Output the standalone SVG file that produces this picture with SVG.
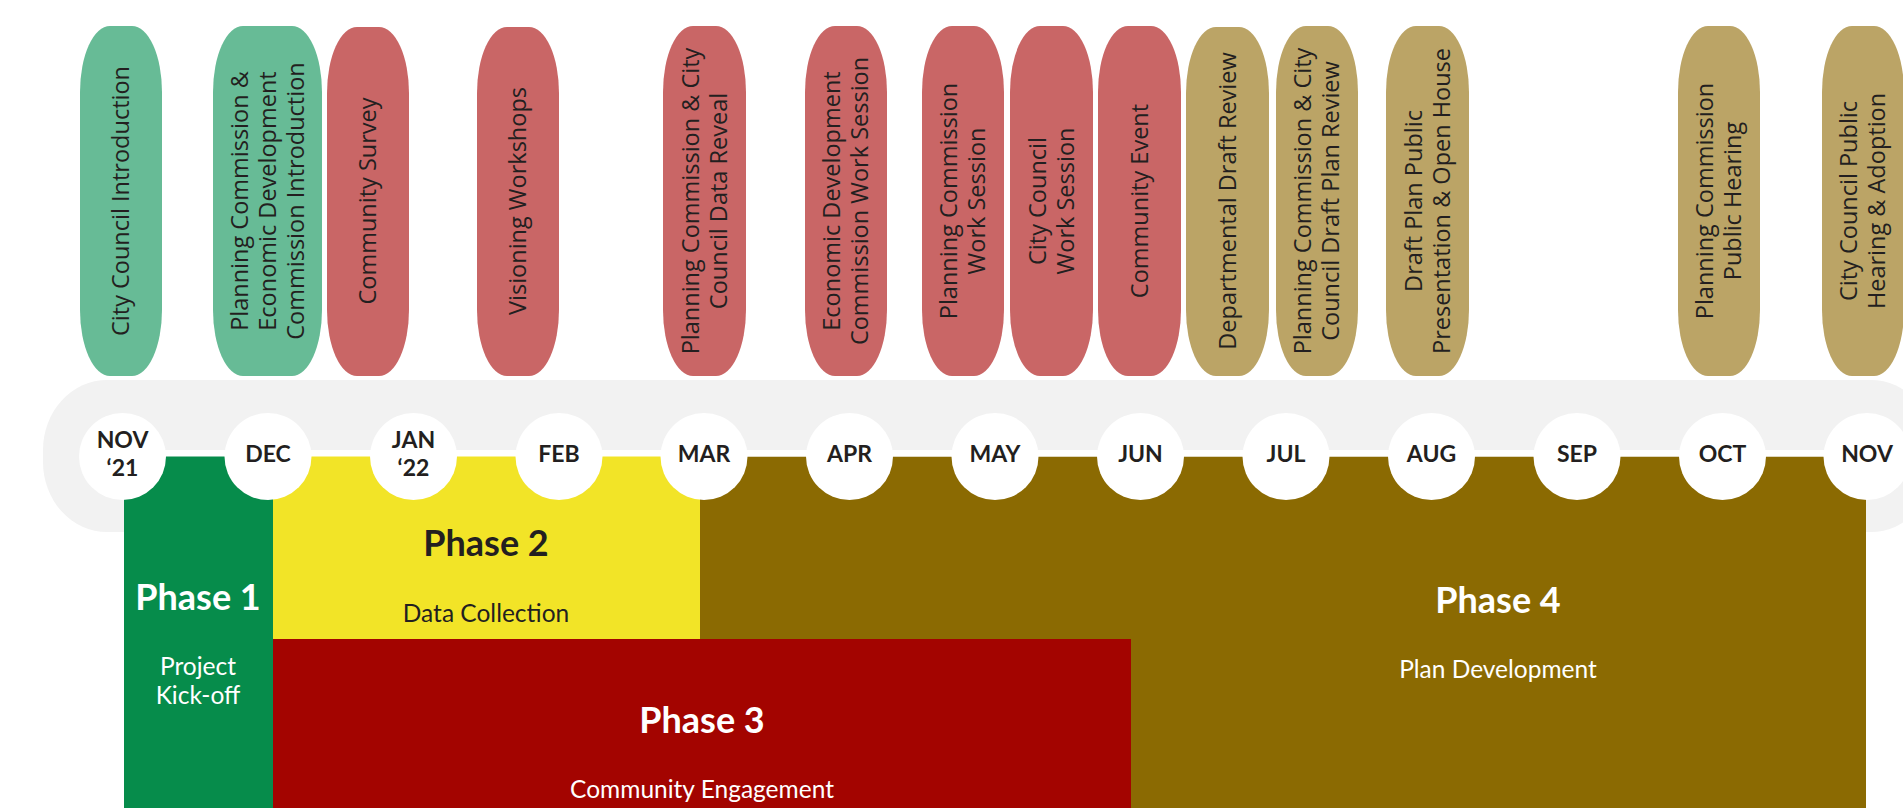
<svg xmlns="http://www.w3.org/2000/svg" width="1903" height="808" viewBox="0 0 1903 808">
<style>
.pill rect{stroke:none}
.g rect{fill:#67BB96}
.r rect{fill:#C96666}
.t rect{fill:#BBA466}
.pill text{font-family:"Open Sans","Noto Sans",sans-serif;font-size:23.5px;fill:#231F20;text-anchor:middle}
.mo circle{fill:#FFFFFF}
.mo text{font-family:Lato,"Liberation Sans",sans-serif;font-weight:700;font-size:23px;fill:#231F20;text-anchor:middle}
.ph{font-family:Lato,"Liberation Sans",sans-serif;font-weight:700;font-size:36px;text-anchor:middle}
.sub{font-family:Lato,"Liberation Sans",sans-serif;font-size:24.5px;text-anchor:middle}
</style>
<rect id="band" x="43" y="380" width="1892" height="152" rx="64" ry="70" fill="#F2F2F2"/>
<g id="phase1"><rect x="124" y="456" width="149" height="352" fill="#068C4B"/>
<text class="ph" x="198" y="610" fill="#FFFFFF">Phase 1</text>
<text class="sub" fill="#FFFFFF"><tspan x="198" y="675">Project</tspan><tspan x="198" y="704">Kick-off</tspan></text></g>
<g id="phase2"><rect x="273" y="456" width="427" height="183" fill="#F2E427"/>
<text class="ph" x="486" y="556" fill="#231F20">Phase 2</text>
<text class="sub" x="486" y="622" fill="#231F20">Data Collection</text></g>
<g id="phase4"><rect x="700" y="456.5" width="1166" height="351.5" fill="#8B6A02"/>
<text class="ph" x="1498" y="613" fill="#FFFFFF">Phase 4</text>
<text class="sub" x="1498" y="678" fill="#FFFFFF">Plan Development</text></g>
<g id="phase3"><rect x="273" y="639" width="858" height="169" fill="#A30400"/>
<text class="ph" x="702" y="733" fill="#FFFFFF">Phase 3</text>
<text class="sub" x="702" y="798" fill="#FFFFFF">Community Engagement</text></g>
<g id="connectors"><rect x="122" y="450" width="1745" height="6.5" fill="#FFFFFF"/></g>
<g id="months">
<g id="m-nov21" class="mo"><circle cx="122.5" cy="456.5" r="43.5"/><text><tspan x="122.5" y="448">NOV</tspan><tspan x="122.5" y="476">‘21</tspan></text></g>
<g id="m-dec" class="mo"><circle cx="268" cy="456.5" r="43.5"/><text x="268" y="461.5">DEC</text></g>
<g id="m-jan22" class="mo"><circle cx="413.5" cy="456.5" r="43.5"/><text><tspan x="413.5" y="448">JAN</tspan><tspan x="413.5" y="476">‘22</tspan></text></g>
<g id="m-feb" class="mo"><circle cx="559" cy="456.5" r="43.5"/><text x="559" y="461.5">FEB</text></g>
<g id="m-mar" class="mo"><circle cx="704" cy="456.5" r="43.5"/><text x="704" y="461.5">MAR</text></g>
<g id="m-apr" class="mo"><circle cx="849.5" cy="456.5" r="43.5"/><text x="849.5" y="461.5">APR</text></g>
<g id="m-may" class="mo"><circle cx="995" cy="456.5" r="43.5"/><text x="995" y="461.5">MAY</text></g>
<g id="m-jun" class="mo"><circle cx="1140.5" cy="456.5" r="43.5"/><text x="1140.5" y="461.5">JUN</text></g>
<g id="m-jul" class="mo"><circle cx="1286" cy="456.5" r="43.5"/><text x="1286" y="461.5">JUL</text></g>
<g id="m-aug" class="mo"><circle cx="1431.5" cy="456.5" r="43.5"/><text x="1431.5" y="461.5">AUG</text></g>
<g id="m-sep" class="mo"><circle cx="1577" cy="456.5" r="43.5"/><text x="1577" y="461.5">SEP</text></g>
<g id="m-oct" class="mo"><circle cx="1722.5" cy="456.5" r="43.5"/><text x="1722.5" y="461.5">OCT</text></g>
<g id="m-nov" class="mo"><circle cx="1867" cy="456.5" r="43.5"/><text x="1867" y="461.5">NOV</text></g>
</g>
<g id="events">
<g id="ev1" class="pill g"><rect x="80" y="26" width="82" height="350" rx="30" ry="66"/><text transform="translate(121,201) rotate(-90)"><tspan x="0" y="8">City Council Introduction</tspan></text></g>
<g id="ev2" class="pill g"><rect x="213" y="26" width="109" height="350" rx="30" ry="66"/><text transform="translate(267.5,201) rotate(-90)"><tspan x="0" y="-20">Planning Commission &amp;</tspan><tspan x="0" y="8">Economic Development</tspan><tspan x="0" y="36">Commission Introduction</tspan></text></g>
<g id="ev3" class="pill r"><rect x="327" y="27" width="82" height="349" rx="30" ry="66"/><text transform="translate(368,201) rotate(-90)"><tspan x="0" y="8">Community Survey</tspan></text></g>
<g id="ev4" class="pill r"><rect x="477" y="27" width="82" height="349" rx="30" ry="66"/><text transform="translate(518,201) rotate(-90)"><tspan x="0" y="8">Visioning Workshops</tspan></text></g>
<g id="ev5" class="pill r"><rect x="663" y="26" width="83" height="350" rx="30" ry="66"/><text transform="translate(704.5,201) rotate(-90)"><tspan x="0" y="-6">Planning Commission &amp; City</tspan><tspan x="0" y="22">Council Data Reveal</tspan></text></g>
<g id="ev6" class="pill r"><rect x="805" y="26" width="82" height="350" rx="30" ry="66"/><text transform="translate(846,201) rotate(-90)"><tspan x="0" y="-6">Economic Development</tspan><tspan x="0" y="22">Commission Work Session</tspan></text></g>
<g id="ev7" class="pill r"><rect x="922" y="26" width="82" height="350" rx="30" ry="66"/><text transform="translate(963,201) rotate(-90)"><tspan x="0" y="-6">Planning Commission</tspan><tspan x="0" y="22">Work Session</tspan></text></g>
<g id="ev8" class="pill r"><rect x="1010" y="26" width="83" height="350" rx="30" ry="66"/><text transform="translate(1051.5,201) rotate(-90)"><tspan x="0" y="-6">City Council</tspan><tspan x="0" y="22">Work Session</tspan></text></g>
<g id="ev9" class="pill r"><rect x="1098" y="26" width="83" height="350" rx="30" ry="66"/><text transform="translate(1139.5,201) rotate(-90)"><tspan x="0" y="8">Community Event</tspan></text></g>
<g id="ev10" class="pill t"><rect x="1186" y="27" width="83" height="349" rx="30" ry="66"/><text transform="translate(1227.5,201) rotate(-90)"><tspan x="0" y="8">Departmental Draft Review</tspan></text></g>
<g id="ev11" class="pill t"><rect x="1276" y="26" width="82" height="350" rx="30" ry="66"/><text transform="translate(1317,201) rotate(-90)"><tspan x="0" y="-6">Planning Commission &amp; City</tspan><tspan x="0" y="22">Council Draft Plan Review</tspan></text></g>
<g id="ev12" class="pill t"><rect x="1386" y="26" width="83" height="350" rx="30" ry="66"/><text transform="translate(1427.5,201) rotate(-90)"><tspan x="0" y="-6">Draft Plan Public</tspan><tspan x="0" y="22">Presentation &amp; Open House</tspan></text></g>
<g id="ev13" class="pill t"><rect x="1678" y="26" width="82" height="350" rx="30" ry="66"/><text transform="translate(1719,201) rotate(-90)"><tspan x="0" y="-6">Planning Commission</tspan><tspan x="0" y="22">Public Hearing</tspan></text></g>
<g id="ev14" class="pill t"><rect x="1822" y="26" width="82" height="350" rx="30" ry="66"/><text transform="translate(1863,201) rotate(-90)"><tspan x="0" y="-6">City Council Public</tspan><tspan x="0" y="22">Hearing &amp; Adoption</tspan></text></g>
</g>
</svg>
